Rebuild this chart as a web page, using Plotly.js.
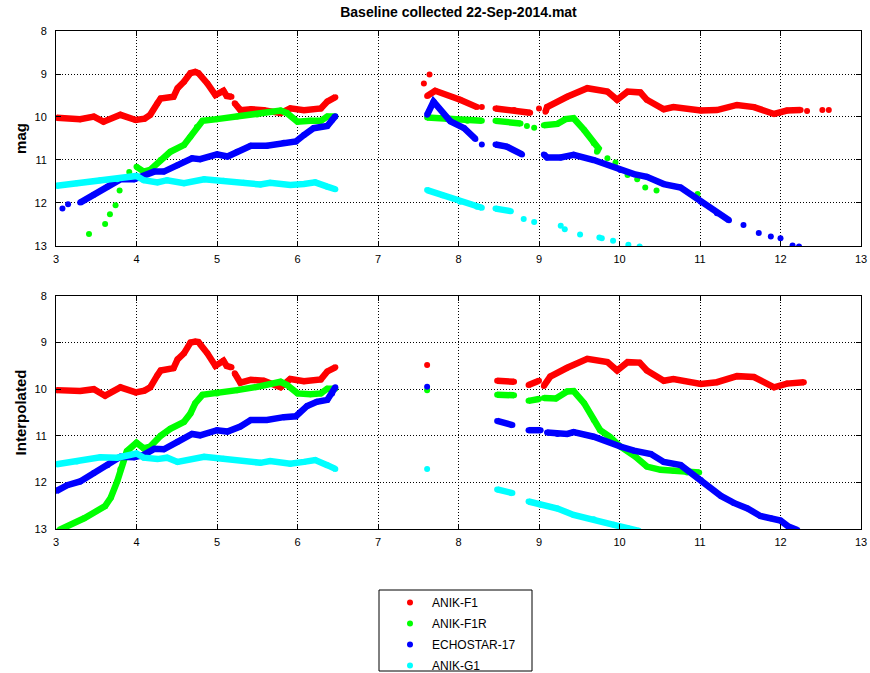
<!DOCTYPE html>
<html>
<head>
<meta charset="utf-8">
<script src="https://cdn.plot.ly/plotly-3.0.1.min.js"></script>
<style>html,body{margin:0;padding:0;background:#fff;}#chart{width:870px;height:673px;}</style>
</head>
<body>
<div id="chart"></div>
<script>
// ---- Data (null = gap between measured runs) ----
const seriesNames = ["ANIK-F1", "ANIK-F1R", "ECHOSTAR-17", "ANIK-G1"];
const seriesColors = ["#ff0000", "#00ff00", "#0000ff", "#00ffff"];
const xTicks = [3,4,5,6,7,8,9,10,11,12,13];
const yTicks = [8,9,10,11,12,13];

// Top panel ("mag")
const f1TopX  = [3.01,3.30,3.47,3.59,3.80,3.99,4.10,4.17,4.26,4.30,4.46,4.51,4.59,4.67,4.73,4.77,4.88,4.98,5.08,5.12,5.18,null,5.22,5.29,5.42,5.58,5.79,5.91,6.08,6.29,6.37,6.47,null,7.57,null,7.64,null,7.61,7.71,8.02,8.23,null,8.29,null,8.46,8.69,8.89,null,9.00,null,9.08,9.10,9.35,9.60,9.85,9.97,10.10,10.26,10.34,10.55,10.67,11.01,11.21,11.46,11.67,11.92,12.08,12.25,null,12.33,null,12.52,null,12.60];
const f1TopY  = [10.02,10.05,9.99,10.11,9.95,10.07,10.04,9.95,9.68,9.57,9.53,9.33,9.18,8.98,8.95,8.98,9.22,9.49,9.39,9.51,9.53,null,9.68,9.84,9.82,9.84,9.91,9.80,9.84,9.80,9.64,9.54,null,9.22,null,9.01,null,9.51,9.39,9.60,9.77,null,9.77,null,9.80,9.84,9.90,null,9.80,null,9.88,9.77,9.53,9.33,9.41,9.60,9.41,9.43,9.60,9.82,9.77,9.85,9.84,9.72,9.77,9.93,9.85,9.84,null,9.86,null,9.84,null,9.84];

const f1rTopX = [3.41,null,3.61,null,3.67,null,3.74,null,3.79,null,3.91,null,4.00,4.09,4.17,4.30,4.42,4.59,4.67,4.75,4.82,5.00,5.25,5.50,5.79,5.87,6.00,6.16,6.29,6.37,6.47,null,7.61,7.86,8.11,8.29,null,8.46,8.77,null,8.85,null,8.94,null,9.06,9.23,9.33,9.43,9.56,9.68,9.74,9.72,null,9.85,null,9.95,null,10.10,null,10.22,null,10.32,null,10.46,null,10.97];
const f1rTopY = [12.72,null,12.49,null,12.26,null,12.05,null,11.71,null,11.28,null,11.16,11.27,11.23,11.00,10.81,10.65,10.46,10.23,10.09,10.05,9.99,9.94,9.85,9.91,10.11,10.09,10.09,9.99,9.99,null,10.01,10.05,10.09,10.09,null,10.09,10.15,null,10.21,null,10.25,null,10.19,10.16,10.05,10.03,10.30,10.61,10.73,10.81,null,10.96,null,11.06,null,11.35,null,11.45,null,11.64,null,11.71,null,11.79];

const e17TopX = [3.08,null,3.15,null,3.30,3.47,3.64,3.80,3.97,4.09,4.22,4.34,4.51,4.69,4.79,5.00,5.13,5.25,5.42,5.62,5.83,5.98,6.08,6.20,6.37,6.43,6.47,null,7.61,7.69,7.90,8.07,8.21,null,8.29,null,8.46,8.60,8.79,null,9.06,9.10,9.27,9.43,9.68,10.01,10.18,10.34,10.55,10.76,11.01,11.21,11.36,null,11.54,null,11.73,null,11.88,null,12.00,null,12.15,null,12.23];
const e17TopY = [12.13,null,12.03,null,11.99,11.81,11.62,11.45,11.45,11.37,11.27,11.27,11.12,10.96,10.98,10.87,10.92,10.81,10.67,10.67,10.60,10.57,10.42,10.26,10.21,10.07,9.98,null,9.95,9.64,10.10,10.26,10.51,null,10.64,null,10.64,10.69,10.87,null,10.87,10.94,10.94,10.88,11.00,11.23,11.33,11.39,11.56,11.64,11.97,12.24,12.40,null,12.51,null,12.70,null,12.78,null,12.82,null,12.99,null,13.01];

const g1TopX  = [3.01,3.26,3.55,3.76,4.00,4.09,4.26,4.38,4.59,4.84,5.08,5.33,5.54,5.66,5.91,6.08,6.22,6.37,6.47,null,7.61,7.80,8.02,8.23,8.29,null,8.46,8.65,null,8.81,null,8.94,null,9.27,null,9.32,null,9.51,null,9.75,null,9.78,null,9.92,null,10.11,null,10.25];
const g1TopY  = [11.60,11.54,11.47,11.45,11.37,11.47,11.52,11.47,11.54,11.45,11.48,11.53,11.57,11.53,11.58,11.56,11.52,11.62,11.68,null,11.70,11.82,11.97,12.09,12.11,null,12.13,12.19,null,12.37,null,12.44,null,12.53,null,12.61,null,12.73,null,12.80,null,12.82,null,12.88,null,12.97,null,13.01];

// Bottom panel ("Interpolated")
const f1BotX  = [3.01,3.30,3.47,3.61,3.80,3.99,4.10,4.17,4.26,4.30,4.46,4.51,4.59,4.67,4.73,4.77,4.88,4.98,5.08,5.12,5.18,null,5.22,5.29,5.42,5.58,5.79,5.91,6.08,6.29,6.37,6.47,null,7.61,null,8.48,8.69,null,8.87,9.00,null,9.06,9.14,9.35,9.60,9.85,9.97,10.10,10.25,10.34,10.55,10.67,11.01,11.21,11.46,11.67,11.92,12.08,12.29];
const f1BotY  = [10.02,10.04,10.00,10.14,9.96,10.07,10.03,9.96,9.70,9.60,9.55,9.36,9.23,9.00,8.98,8.99,9.23,9.50,9.39,9.50,9.53,null,9.66,9.86,9.80,9.82,9.96,9.78,9.83,9.79,9.62,9.53,null,9.48,null,9.82,9.84,null,9.91,9.82,null,9.93,9.73,9.54,9.35,9.42,9.60,9.42,9.43,9.60,9.82,9.78,9.89,9.85,9.72,9.74,9.96,9.88,9.85];

const f1rBotX = [3.04,3.35,3.61,3.68,3.76,3.80,3.88,4.00,4.09,4.17,4.30,4.42,4.59,4.67,4.73,4.82,5.00,5.25,5.50,5.79,5.87,6.00,6.16,6.29,6.37,6.47,null,7.61,null,8.48,8.69,null,8.87,9.00,null,9.06,9.21,9.35,9.43,9.56,9.68,9.76,9.88,10.01,10.20,10.34,10.51,10.67,10.84,10.99];
const f1rBotY = [13.02,12.77,12.51,12.33,11.98,11.72,11.33,11.15,11.27,11.23,11.00,10.85,10.70,10.52,10.30,10.12,10.09,10.02,9.95,9.84,9.91,10.09,10.11,10.09,9.99,9.99,null,10.02,null,10.12,10.13,null,10.25,10.21,null,10.19,10.20,10.05,10.04,10.30,10.66,10.88,11.02,11.23,11.45,11.66,11.73,11.75,11.79,11.79];

const e17BotX = [3.01,3.14,3.30,3.47,3.64,3.80,3.97,4.09,4.22,4.34,4.51,4.69,4.79,5.00,5.13,5.29,5.42,5.62,5.83,5.98,6.12,6.24,6.37,6.43,6.47,null,7.61,null,8.48,8.67,null,8.87,9.02,null,9.10,9.23,9.35,9.43,9.68,10.01,10.18,10.39,10.55,10.76,11.01,11.26,11.42,11.59,11.75,11.88,12.00,12.10,12.21];
const e17BotY = [12.18,12.06,11.98,11.80,11.63,11.45,11.46,11.41,11.28,11.29,11.13,10.96,10.99,10.88,10.91,10.80,10.66,10.66,10.60,10.58,10.36,10.27,10.23,10.09,9.96,null,9.95,null,10.68,10.77,null,10.88,10.88,null,10.93,10.96,10.96,10.92,11.02,11.23,11.32,11.39,11.56,11.63,11.95,12.29,12.44,12.56,12.72,12.77,12.82,12.95,13.02];

const g1BotX  = [3.01,3.26,3.55,3.76,4.00,4.09,4.26,4.38,4.51,4.84,5.08,5.33,5.54,5.66,5.91,6.08,6.22,6.37,6.47,null,7.61,null,8.48,8.67,null,8.87,9.02,9.23,9.43,9.68,9.93,10.10,10.24];
const g1BotY  = [11.61,11.55,11.46,11.47,11.38,11.47,11.50,11.47,11.56,11.45,11.49,11.54,11.58,11.54,11.60,11.56,11.52,11.63,11.71,null,11.71,null,12.15,12.23,null,12.41,12.48,12.56,12.70,12.79,12.91,12.98,13.04];

const titleText = "Baseline collected 22-Sep-2014.mat";
const topYLabel = "mag";
const botYLabel = "Interpolated";

// ---- Build traces ----
const panels = [
  {xa: "x", ya: "y", data: [[f1TopX,f1TopY],[f1rTopX,f1rTopY],[e17TopX,e17TopY],[g1TopX,g1TopY]], legend: true},
  {xa: "x2", ya: "y2", data: [[f1BotX,f1BotY],[f1rBotX,f1rBotY],[e17BotX,e17BotY],[g1BotX,g1BotY]], legend: false}
];
const traces = [];
panels.forEach(p => {
  p.data.forEach((d, i) => {
    traces.push({
      type: "scatter", mode: "lines", x: d[0], y: d[1], xaxis: p.xa, yaxis: p.ya,
      line: {color: seriesColors[i], width: 6.5}, connectgaps: false,
      showlegend: false, hoverinfo: "skip", name: seriesNames[i]
    });
    traces.push({
      type: "scatter", mode: "markers", x: d[0], y: d[1], xaxis: p.xa, yaxis: p.ya,
      marker: {color: seriesColors[i], size: 6}, name: seriesNames[i],
      legendgroup: "g" + i, showlegend: p.legend
    });
  });
});

const font = "Liberation Sans, Arial, sans-serif";
function xAxis(anchor) {
  return {
    anchor: anchor, domain: [0, 1], range: [3, 13], autorange: false,
    tickvals: xTicks, ticktext: xTicks.map(String),
    showline: true, linecolor: "#000", linewidth: 1, mirror: "ticks",
    ticks: "inside", ticklen: 5, tickcolor: "#000",
    showgrid: true, gridcolor: "#000", griddash: "1px,2px", gridwidth: 1,
    zeroline: false, tickfont: {family: font, size: 11, color: "#000"},
    ticklabelstandoff: 3
  };
}
function yAxis(anchor, domain, label) {
  return {
    anchor: anchor, domain: domain, range: [13, 8], autorange: false,
    tickvals: yTicks, ticktext: yTicks.map(String),
    showline: true, linecolor: "#000", linewidth: 1, mirror: "ticks",
    ticks: "inside", ticklen: 5, tickcolor: "#000",
    showgrid: true, gridcolor: "#000", griddash: "1px,2px", gridwidth: 1,
    zeroline: false, tickfont: {family: font, size: 11, color: "#000"},
    ticklabelstandoff: 6,
    title: {text: "<b>" + label + "</b>", font: {family: font, size: 15, color: "#000"}, standoff: 4}
  };
}

const layout = {
  width: 870, height: 673,
  margin: {l: 56, r: 9, t: 31, b: 144, autoexpand: false},
  paper_bgcolor: "#fff", plot_bgcolor: "#fff",
  title: {text: "<b>" + titleText + "</b>", font: {family: font, size: 14, color: "#000"},
          xref: "paper", x: 0.5, xanchor: "center", yref: "container", y: 1 - 12/673, yanchor: "middle"},
  xaxis: xAxis("y"),
  yaxis: yAxis("x", [0.5683, 1], topYLabel),
  xaxis2: xAxis("y2"),
  yaxis2: yAxis("x2", [0, 0.4679], botYLabel),
  showlegend: true,
  legend: {
    x: (388 - 56) / 805, y: (529 - 588) / 498, xanchor: "left", yanchor: "top",
    xref: "paper", yref: "paper",
    bgcolor: "rgba(0,0,0,0)", borderwidth: 0,
    font: {family: font, size: 12, color: "#000"},
    itemwidth: 34, traceorder: "grouped", tracegroupgap: 2
  },
  shapes: [{
    type: "rect", xref: "paper", yref: "paper",
    x0: (379 - 56) / 805, x1: (532 - 56) / 805,
    y0: (529 - 671) / 498, y1: (529 - 590) / 498,
    line: {color: "#000", width: 1}, fillcolor: "rgba(0,0,0,0)"
  }]
};

Plotly.newPlot("chart", traces, layout, {displayModeBar: false, staticPlot: true});
</script>
</body>
</html>
